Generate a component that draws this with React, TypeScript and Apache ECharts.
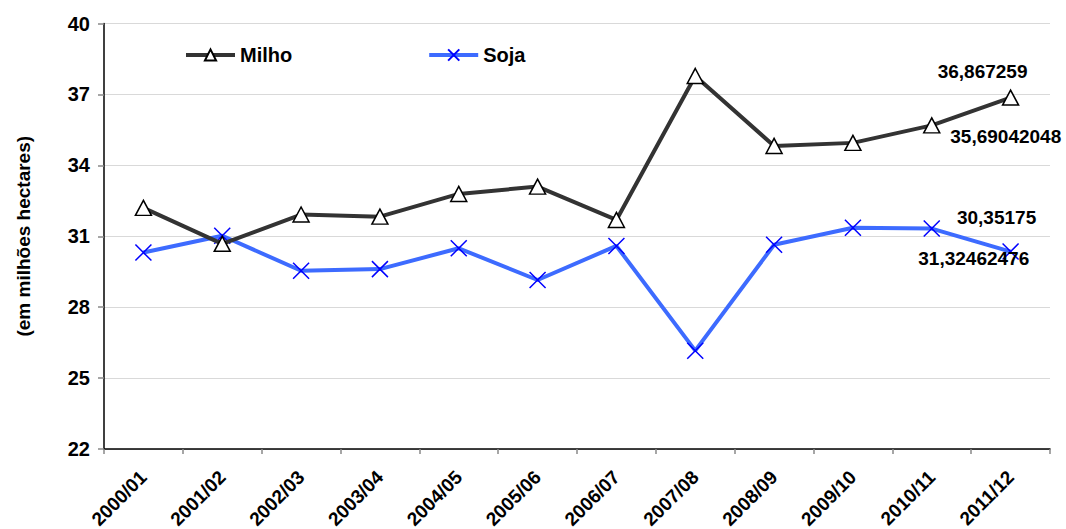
import React, { useEffect, useRef } from "react";
import * as echarts from "echarts";

const categories = [
  "2000/01", "2001/02", "2002/03", "2003/04", "2004/05", "2005/06",
  "2006/07", "2007/08", "2008/09", "2009/10", "2010/11", "2011/12",
];
const milho = [32.2, 30.68, 31.92, 31.83, 32.79, 33.1, 31.69, 37.78, 34.82, 34.95, 35.69042048, 36.867259];
const soja = [30.31, 31.02, 29.54, 29.61, 30.49, 29.15, 30.59, 26.16, 30.64, 31.36, 31.32462476, 30.35175];

const yTicks = { min: 22, max: 40, interval: 3 };
const seriesNames = ["Milho", "Soja"];
const yAxisTitle = "(em milhões hectares)";

const FONT = "'Liberation Sans', Arial, sans-serif";
const X_PATH = "path://M0,0L10,10M10,0L0,10";

const fmt = (v: number) => String(v).replace(".", ",");

const labelStyle = (dx: number, dy: number) => ({
  show: true,
  position: "inside",
  offset: [dx, dy],
  formatter: (p: any) => fmt(p.value),
  color: "#000",
  fontFamily: FONT,
  fontWeight: "bold",
  fontSize: 19,
});

export default function App() {
  const ref = useRef<HTMLDivElement>(null);
  useEffect(() => {
    if (!ref.current) return;
    const chart = echarts.init(ref.current, null, { renderer: "svg" });
    const n = milho.length;
    const milhoData = milho.map((v, i) => {
      if (i === n - 1) return { value: v, label: labelStyle(-28, -26) };
      if (i === n - 2) return { value: v, label: labelStyle(74, 11) };
      return v;
    });
    const sojaData = soja.map((v, i) => {
      if (i === n - 1) return { value: v, label: labelStyle(-14, -34) };
      if (i === n - 2) return { value: v, label: labelStyle(42, 30) };
      return v;
    });
    chart.setOption({
      animation: false,
      backgroundColor: "#fff",
      textStyle: { fontFamily: FONT },
      grid: {
        left: 104,
        right: 16,
        top: 23.5,
        bottom: 80,
        containLabel: false,
        outerBoundsMode: "none",
      },
      legend: {
        left: 184,
        top: 45,
        padding: 0,
        itemWidth: 49,
        itemHeight: 14,
        itemGap: 135,
        textStyle: { fontFamily: FONT, fontWeight: "bold", fontSize: 20, color: "#000" },
        data: [
          { name: seriesNames[0], lineStyle: { width: 4, color: "#333333" } },
          { name: seriesNames[1], lineStyle: { width: 4, color: "#3d6bff" } },
        ],
      },
      xAxis: {
        type: "category",
        data: categories,
        boundaryGap: true,
        axisLine: { lineStyle: { color: "#000", width: 1.5 } },
        axisTick: { show: true, length: 5, lineStyle: { color: "#888", width: 1.5 } },
        axisLabel: {
          rotate: 45,
          margin: 25,
          padding: [14, 0, 0, 0],
          color: "#000",
          fontFamily: FONT,
          fontWeight: "bold",
          fontSize: 19,
          interval: 0,
        },
        splitLine: { show: false },
      },
      yAxis: {
        type: "value",
        min: yTicks.min,
        max: yTicks.max,
        interval: yTicks.interval,
        name: yAxisTitle,
        nameLocation: "middle",
        nameRotate: 90,
        nameGap: 71,
        nameTextStyle: { fontFamily: FONT, fontWeight: "bold", fontSize: 19, color: "#000" },
        axisLine: { show: true, lineStyle: { color: "#000", width: 1.5 } },
        axisTick: { show: true, length: 6, lineStyle: { color: "#888", width: 1.5 } },
        axisLabel: {
          margin: 14,
          color: "#000",
          fontFamily: FONT,
          fontWeight: "bold",
          fontSize: 20,
        },
        splitLine: { show: true, lineStyle: { color: "#d9d9d9", width: 1 } },
      },
      series: [
        {
          name: seriesNames[0],
          type: "line",
          data: milhoData,
          symbol: "triangle",
          symbolSize: [16, 15],
          showAllSymbol: true,
          lineStyle: { color: "#333333", width: 4 },
          itemStyle: { color: "#ffffff", borderColor: "#000", borderWidth: 1.5 },
          label: { show: false },
          z: 3,
        },
        {
          name: seriesNames[1],
          type: "line",
          data: sojaData,
          symbol: X_PATH,
          symbolSize: 16,
          showAllSymbol: true,
          lineStyle: { color: "#3d6bff", width: 4 },
          itemStyle: { color: "#0000ff", borderColor: "#0000ff", borderWidth: 1.5 },
          label: { show: false },
          z: 2,
        },
      ],
    });
    return () => chart.dispose();
  }, []);
  return (
    <div
      ref={ref}
      style={{ position: "fixed", left: 0, top: 0, width: 1066, height: 529, background: "#fff" }}
    />
  );
}
